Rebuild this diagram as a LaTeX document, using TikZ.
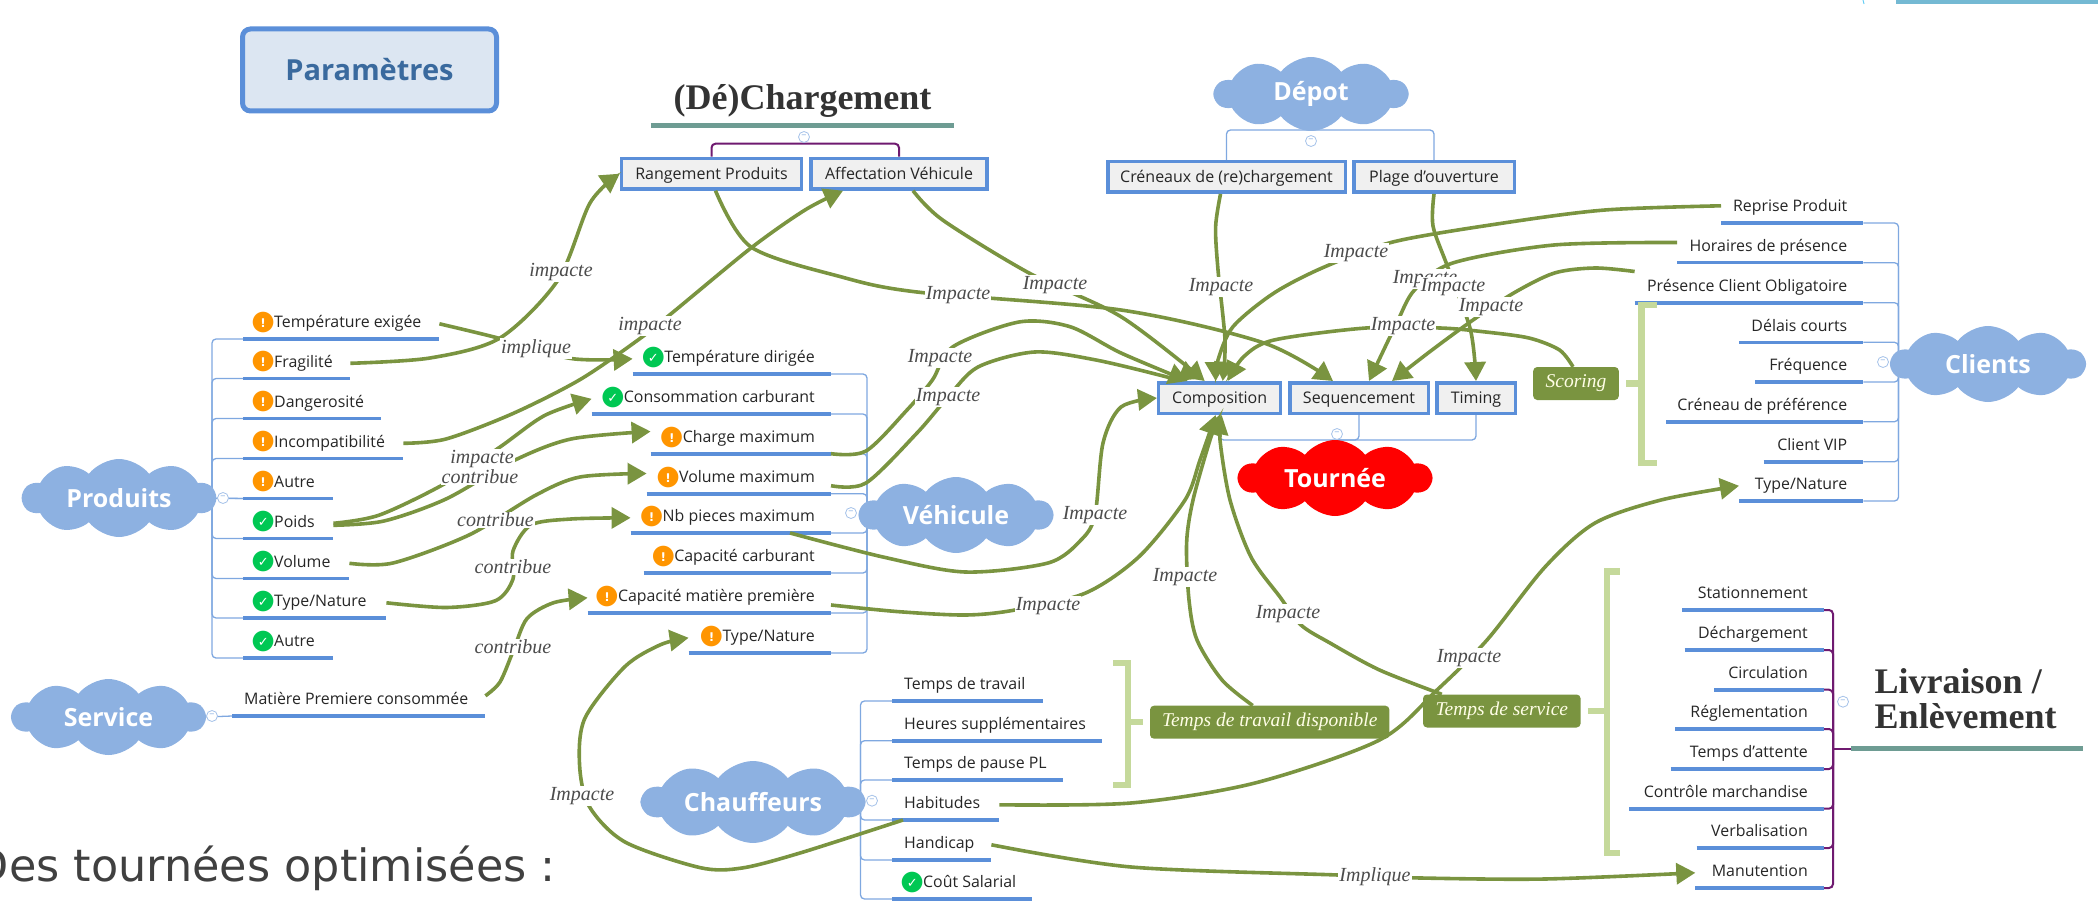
\documentclass[tikz,border=0pt]{standalone}
\usepackage{fontspec}
\setmainfont{Open Sans}
\newfontfamily\labelfont{Liberation Serif}
\newfontfamily\symbolfont{DejaVu Sans}
\usetikzlibrary{arrows.meta,calc,shapes.symbols}

\definecolor{topicblue}{HTML}{5B8FD9}
\definecolor{branchblue}{HTML}{7FA8E0}
\definecolor{cloudblue}{HTML}{8DB1E1}
\definecolor{linkgreen}{HTML}{7A9440}
\definecolor{bracketgreen}{HTML}{C5D99B}
\definecolor{titleteal}{HTML}{6E9C93}
\definecolor{rootpurple}{HTML}{6F1A70}
\definecolor{warnorange}{HTML}{FF9500}
\definecolor{okgreen}{HTML}{00C853}
\definecolor{boxgrey}{HTML}{F0F0F0}
\definecolor{legendblue}{HTML}{DCE6F2}
\definecolor{legendtext}{HTML}{3A6A9E}
\definecolor{slidebar}{HTML}{74B9D3}

\newcommand{\badge}[3]{\smash{\makebox[16pt][c]{\makebox[0pt]{\raisebox{-1.5pt}{\fontsize{27}{27}\symbolfont\color{#1}●}}\makebox[0pt]{\raisebox{0.5pt}{\fontsize{#3}{#3}\symbolfont\bfseries\color{white}#2}}}}\hspace{3pt}}
\newcommand{\warnmark}{\badge{warnorange}{!}{12}}
\newcommand{\okmark}{\badge{okgreen}{✓}{13}}

\tikzset{
	topictext/.style={inner sep=0pt,minimum height=30pt,text height=12pt,text depth=4pt,font=\fontsize{15.9}{18}\selectfont,text=black!85},
	leftopic/.style={topictext,anchor=south west,text width=#1,align=flush left,execute at begin node={\hspace*{12pt}},
		append after command={(\tikzlastnode.south west) edge[rule] (\tikzlastnode.south east)}},
	rightopic/.style={topictext,anchor=south east,text width=#1,align=flush right,execute at end node={\hspace*{16pt}},
		append after command={(\tikzlastnode.south west) edge[rule] (\tikzlastnode.south east)}},
	rule/.style={draw=topicblue,line width=3.6pt},
	branch/.style={draw=branchblue,line width=1.3pt,rounded corners=4pt},
	rootbranch/.style={draw=rootpurple,line width=2pt,rounded corners=4pt},
	bubble/.style={cloud,cloud puffs=10,cloud puff arc=105,cloud ignores aspect,fill=cloudblue,inner sep=0pt,text=white,font=\fontsize{25}{28}\selectfont\bfseries},
	sbox/.style={draw=topicblue,line width=3.5pt,fill=boxgrey,minimum height=30.5pt,inner sep=0pt,text height=13pt,text depth=2pt,font=\fontsize{16}{18}\selectfont,text=black!85},
	tagbox/.style={fill=linkgreen,rounded corners=4pt,inner sep=0pt,minimum height=33pt,text=white!90!yellow,font=\fontsize{19.5}{22}\selectfont\labelfont\itshape},
	bracket/.style={draw=bracketgreen,line width=6.5pt},
	link/.style={draw=linkgreen,line width=3.6pt,->},
	lbl/.style={fill=white,inner sep=1pt,text=black!70,font=\fontsize{20}{22}\selectfont\labelfont\itshape},
	fold/.style={circle,draw=branchblue!70,fill=white,line width=.8pt,minimum size=11pt,inner sep=0pt,text=branchblue,font=\fontsize{9}{9}\selectfont},
	titletext/.style={text=black!80,font=\fontsize{36}{38}\selectfont\labelfont\bfseries},
	titlerule/.style={draw=titleteal,line width=5pt}
}

\begin{document}
\begin{tikzpicture}[x=1pt,y=-1pt,>={Triangle[length=19pt,width=21pt]}]
	\useasboundingbox (0,0) rectangle (2098,901);

	% corner of the slide
	\fill[slidebar] (1896,0) rectangle (2098,4);
	\draw[cyan!60,line width=1pt] (1864,4) -- (1863,0);
	\node[anchor=base east,text=black!75,inner sep=0pt,font=\fontsize{44.5}{48}\selectfont\symbolfont] (slidetext) at (556,881) {Des tournées optimisées :};

	% legend
	\node[draw=topicblue,line width=5pt,rounded corners=8pt,fill=legendblue,minimum width=254pt,minimum height=82pt,text=legendtext,font=\fontsize{29}{32}\selectfont\bfseries] (parametres) at (369.5,70) {Paramètres};

	% anchor points of the trees
	\coordinate (produitsjoin) at (212,498);
	\coordinate (vehiculejoin) at (867,513);
	\coordinate (clientsjoin) at (1898.5,362);
	\coordinate (chauffeursjoin) at (860.5,800);
	\coordinate (livraisonjoin) at (1833,748.7);
	\coordinate (depotjoin) at (1311,130);
	\coordinate (tourneejoin) at (1338,440);
	\coordinate (chargementjoin) at (804,143.7);

	% Produits
	\node[leftopic=196pt] (tempexigee) at (243,339) {\warnmark Température exigée};
	\node[leftopic=107pt] (fragilite) at (243,378.5) {\warnmark Fragilité};
	\node[leftopic=138pt] (dangerosite) at (243,418.5) {\warnmark Dangerosité};
	\node[leftopic=160pt] (incompat) at (243,458.5) {\warnmark Incompatibilité};
	\node[leftopic=90pt] (autrea) at (243,498.5) {\warnmark Autre};
	\node[leftopic=90pt] (poids) at (243,538.5) {\okmark Poids};
	\node[leftopic=106pt] (volume) at (243,578.5) {\okmark Volume};
	\node[leftopic=143pt] (typeproduit) at (243,618) {\okmark Type/Nature};
	\node[leftopic=90pt] (autreb) at (243,658) {\okmark Autre};
	\foreach \leaf in {tempexigee,fragilite,dangerosite,incompat,autrea,poids,volume,typeproduit,autreb}
		\draw[branch] (\leaf.south west) -| (produitsjoin);
	\node[bubble,minimum width=193pt,minimum height=78pt] (produits) at (119,498) {Produits};
	\draw[branch] (produits.east) -- (autrea.south west);
	\node[fold] (foldproduits) at (223,498) {−};

	% Service
	\node[leftopic=253pt] (matiere) at (232,716) {Matière Premiere consommée};
	\node[bubble,minimum width=193pt,minimum height=76pt] (service) at (108.5,717) {Service};
	\draw[branch] (service.east) -- (matiere.south west);
	\node[fold] (foldservice) at (212,716) {−};

	% Vehicule
	\node[rightopic=198pt] (tempdirigee) at (831,374) {\okmark Température dirigée};
	\node[rightopic=239pt] (consommation) at (831,414) {\okmark Consommation carburant};
	\node[rightopic=180pt] (chargemax) at (831,453.7) {\warnmark Charge maximum};
	\node[rightopic=184pt] (volumemax) at (831,493.7) {\warnmark Volume maximum};
	\node[rightopic=200pt] (nbpieces) at (831,533) {\warnmark Nb pieces maximum};
	\node[rightopic=187pt] (capacarb) at (831,573) {\warnmark Capacité carburant};
	\node[rightopic=243pt] (capamatiere) at (831,613) {\warnmark Capacité matière première};
	\node[rightopic=142pt] (typevehicule) at (831,653) {\warnmark Type/Nature};
	\foreach \leaf in {tempdirigee,consommation,chargemax,volumemax,nbpieces,capacarb,capamatiere,typevehicule}
		\draw[branch] (\leaf.south east) -| (vehiculejoin);
	\node[bubble,minimum width=193pt,minimum height=76pt] (vehicule) at (956,515) {Véhicule};
	\node[fold] (foldvehicule) at (851,513) {−};

	% Chauffeurs
	\node[leftopic=151pt] (tempstravail) at (892,701) {Temps de travail};
	\node[leftopic=210pt] (heures) at (892,740.7) {Heures supplémentaires};
	\node[leftopic=171pt] (pause) at (892,780) {Temps de pause PL};
	\node[leftopic=107pt] (habitudes) at (892,820) {Habitudes};
	\node[leftopic=99pt] (handicap) at (892,860) {Handicap};
	\node[leftopic=140pt] (cout) at (892,899) {\okmark Coût Salarial};
	\foreach \leaf in {tempstravail,heures,pause,habitudes,handicap,cout}
		\draw[branch] (\leaf.south west) -| (chauffeursjoin);
	\node[bubble,minimum width=222pt,minimum height=82pt] (chauffeurs) at (753,802) {Chauffeurs};
	\node[fold] (foldchauffeurs) at (872,800.7) {−};

	% Chargement
	\node[titletext,minimum width=303pt,anchor=south,inner sep=8pt] (chargement) at (802.5,125.5) {(Dé)Chargement};
	\draw[titlerule] (chargement.south west) -- (chargement.south east);
	\node[sbox,minimum width=180pt] (rangement) at (711.5,173.7) {Rangement Produits};
	\node[sbox,minimum width=175.6pt] (affectation) at (899,173.7) {Affectation Véhicule};
	\draw[rootbranch] (rangement.north) |- (chargementjoin) -| (affectation.north);
	\node[fold] (foldchargement) at (804,137) {−};

	% Depot
	\node[sbox,minimum width=237.5pt] (creneaux) at (1226.5,177) {Créneaux de (re)chargement};
	\node[sbox,minimum width=160.5pt] (plage) at (1434,177) {Plage d'ouverture};
	\draw[branch] (creneaux.north) |- (depotjoin) -| (plage.north);
	\node[bubble,minimum width=193pt,minimum height=74pt] (depot) at (1311,94) {Dépot};
	\node[fold] (folddepot) at (1311,141) {−};

	% Tournee
	\node[sbox,minimum width=122pt] (composition) at (1219.7,398) {Composition};
	\node[sbox,minimum width=138.5pt] (sequencement) at (1359,398) {Sequencement};
	\node[sbox,minimum width=78.5pt] (timing) at (1476,398) {Timing};
	\draw[branch] (composition.south) |- (tourneejoin) -| (timing.south);
	\draw[branch] (sequencement.south) |- (tourneejoin);
	\node[bubble,fill=red,minimum width=193pt,minimum height=76pt] (tournee) at (1335,478) {Tournée};
	\node[fold] (foldtournee) at (1337,434) {−};

	% Clients
	\node[rightopic=142pt] (reprise) at (1863.4,223) {Reprise Produit};
	\node[rightopic=186pt] (horaires) at (1863.4,262.7) {Horaires de présence};
	\node[rightopic=228.4pt] (presence) at (1863.4,302.7) {Présence Client Obligatoire};
	\node[rightopic=124pt] (delais) at (1863.4,342.3) {Délais courts};
	\node[rightopic=108pt] (frequence) at (1863.4,382) {Fréquence};
	\node[rightopic=197pt] (creneaupref) at (1863.4,421.7) {Créneau de préférence};
	\node[rightopic=99.4pt] (clientvip) at (1863.4,461.7) {Client VIP};
	\node[rightopic=124pt] (typeclient) at (1863.4,501) {Type/Nature};
	\foreach \leaf in {reprise,horaires,presence,delais,frequence,creneaupref,clientvip,typeclient}
		\draw[branch] (\leaf.south east) -| (clientsjoin);
	\node[bubble,minimum width=194pt,minimum height=76pt] (clients) at (1988,364) {Clients};
	\node[fold] (foldclients) at (1883,362) {−};

	% Livraison
	\node[rightopic=141.5pt] (stationnement) at (1824,610) {Stationnement};
	\node[rightopic=139pt] (dechargement) at (1824,650) {Déchargement};
	\node[rightopic=109.3pt] (circulation) at (1824,689.7) {Circulation};
	\node[rightopic=148.2pt] (reglementation) at (1824,729) {Réglementation};
	\node[rightopic=153pt] (attente) at (1824,769) {Temps d'attente};
	\node[rightopic=194.5pt] (controle) at (1824,808.7) {Contrôle marchandise};
	\node[rightopic=127pt] (verbalisation) at (1824,848) {Verbalisation};
	\node[rightopic=128.3pt] (manutention) at (1824,888) {Manutention};
	\foreach \leaf in {stationnement,dechargement,circulation,reglementation,attente,controle,verbalisation,manutention}
		\draw[rootbranch] (\leaf.south east) -| (livraisonjoin);
	\coordinate (livraisonrule) at (1851,748.7);
	\coordinate (livraisonend) at (2083,748.7);
	\draw[rootbranch] (livraisonjoin) -- (livraisonrule);
	\draw[titlerule] (livraisonrule) -- (livraisonend);
	\node[titletext,anchor=south west,align=left,inner sep=0pt,font=\fontsize{36}{34.5}\selectfont\labelfont\bfseries] (livraison) at (1874.5,729) {Livraison /\\Enlèvement};
	\node[fold] (foldlivraison) at (1843,701.7) {−};

	% tags and their brackets
	\node[tagbox,minimum width=85.6pt] (scoring) at (1576,383.5) {Scoring};
	\node[tagbox,minimum width=239.4pt] (travaildispo) at (1269.7,722.2) {Temps de travail disponible};
	\node[tagbox,minimum width=157.6pt] (tempsservice) at (1501.8,711) {Temps de service};
	\coordinate (scoringtop) at (1657,305);
	\coordinate (scoringbottom) at (1657,463);
	\draw[bracket] (scoringtop) -- (1641.5,305) -- (1641.5,463) -- (scoringbottom);
	\draw[bracket,shorten <=7pt] (scoring.east) -- (1641.5,383.5);
	\coordinate (travailtop) at (1113,663);
	\coordinate (travailbottom) at (1113,785);
	\draw[bracket] (travailtop) -- (1128,663) -- (1128,785) -- (travailbottom);
	\draw[bracket,shorten <=7pt] (travaildispo.west) -- (1128,722.2);
	\coordinate (servicetop) at (1619.5,571.7);
	\coordinate (servicebottom) at (1619.5,853);
	\draw[bracket] (servicetop) -- (1607,571.7) -- (1607,853) -- (servicebottom);
	\draw[bracket,shorten <=7pt] (tempsservice.east) -- (1607,711);

	% links
	\draw[link] plot[smooth] coordinates {(fragilite.east) (430,358) (500,338) (558,280) (590,203) (rangement.west)};
	\draw[link] plot[smooth] coordinates {(tempexigee.east) (498,338) (571,358.5) (tempdirigee.west)};
	\draw[link] plot[smooth] coordinates {(incompat.east) (446,439) (513,413.5) (580,379.6) (638,340) (672,313) (751,248) (805,210) ([xshift=-56pt]affectation.south)};
	\draw[link] plot[smooth] coordinates {(poids.east) (379.5,515) (446,483) (500,447) (544.6,415.5) (consommation.west)};
	\draw[link] plot[smooth] coordinates {([yshift=-2pt]poids.east) (384,521) (446,499) (513,461) (571,439) ([yshift=7pt]chargemax.west)};
	\draw[link] plot[smooth] coordinates {(volume.east) (393,563) (469,535) (536,495) (580,477) ([yshift=5pt]volumemax.west)};
	\draw[link] plot[smooth] coordinates {(typeproduit.east) (446.4,607.5) (495.5,600.7) (513,579) (513,551) (531,525) (571,519) (nbpieces.west)};
	\draw[link] plot[smooth] coordinates {([yshift=5pt]matiere.east) (500,682) (513.4,650.5) (527,618.6) (553.6,602.7) (capamatiere.west)};
	\draw[link] plot[smooth] coordinates {([xshift=11pt]habitudes.south west) (800,853) (742,868) (700,867.6) (625,842) (589,806) (579.5,764) (585,718) (625,666.5) (661,644.5) (typevehicule.west)};
	\draw[link] plot[smooth] coordinates {([xshift=4pt]rangement.south) (751,247) (840.6,276.7) (917,292) (1121,310) (1264,343) ([xshift=-26pt]sequencement.north)};
	\draw[link] plot[smooth] coordinates {([xshift=14pt]affectation.south) (942.6,220) (1029,273) (1121,316.7) ([xshift=-15pt]composition.north)};
	\draw[link] plot[smooth] coordinates {(chargemax.south east) (866,451) (907,410) (932.4,380) (953,346.7) (1019,322) (1070,326.7) (1121,353) ([xshift=-32pt]composition.north)};
	\draw[link] plot[smooth] coordinates {([yshift=8pt]volumemax.south east) (866,483) (917,433) (948,397) (978,367) (1034.5,352) (1096,360) (1167,377) ([xshift=-43pt]composition.north)};
	\draw[link] plot[smooth] coordinates {([xshift=-41pt]nbpieces.south east) (883,557) (965,572) (1048,563) (1081,540) (1095,515) (1103,443) (1121,407) (composition.west)};
	\draw[link] plot[smooth] coordinates {([yshift=8pt]capamatiere.south east) (899,611.7) (965.6,615) (1015,610) (1085.6,593) (1139,556.7) (1185,500) (1200,460) ([xshift=-4pt]composition.south)};
	\draw[link] plot[smooth] coordinates {([xshift=-17pt]travaildispo.north) (1222,680) (1197,640) (1189,600) (1186.6,543) (1193,500) (1210,440) (composition.south)};
	\draw[link] plot[smooth] coordinates {([xshift=-60pt]tempsservice.north) (1379.5,670) (1330,643) (1301,625) (1280,597) (1251,557) (1230,500) (1220,440) ([xshift=2pt]composition.south)};
	\draw[link] plot[smooth] coordinates {(habitudes.east) (1131,803) (1255,783) (1379.5,740) (1437,690) (1487,640) (1545,567) (1595,523) (1661,500) (typeclient.west)};
	\draw[link] plot[smooth] coordinates {(handicap.east) (1131,867) (1338,875) (1421,878) (1545,879) (manutention.west)};
	\draw[link] plot[smooth] coordinates {([xshift=-6pt]creneaux.south) (1215.6,227) (1218,270) (1225,340) ([xshift=3pt]composition.north)};
	\draw[link] plot[smooth] coordinates {([yshift=2pt]reprise.west) (1605,210) (1503.6,223) (1394,241.7) (1325,266.7) (1274,293) (1233,326.7) (1218,360) ([xshift=-4pt]composition.north)};
	\draw[link] plot[smooth] coordinates {([yshift=5pt]horaires.west) (1554,245) (1452.7,263) (1414.5,290) (1396.7,323) ([xshift=10pt]sequencement.north)};
	\draw[link] plot[smooth] coordinates {([yshift=16pt]presence.west) (1595,268) (1554.5,273) (1513.7,293) (1473,320) (1432,350) ([xshift=33pt]sequencement.north)};
	\draw[link] plot[smooth] coordinates {([xshift=-3pt]scoring.north) (1559.5,350) (1529,338) (1483,331.7) (1440,328) (1366,328) (1274,340) (1243.7,356.7) ([xshift=8pt]composition.north)};
	\draw[link] plot[smooth] coordinates {(plage.south) (1433,226) (1447.6,266.7) (1470.5,330) (timing.north)};

	% link labels
	\node[lbl] (lblfragilite) at (561,272) {impacte};
	\node[lbl] (lbltemperature) at (536,348.5) {implique};
	\node[lbl] (lblincompat) at (650,326) {impacte};
	\node[lbl] (lblpoidsa) at (482,459) {impacte};
	\node[lbl] (lblpoidsb) at (480,477) {contribue};
	\node[lbl] (lblvolume) at (495.5,520) {contribue};
	\node[lbl] (lbltype) at (513,567) {contribue};
	\node[lbl] (lblmatiere) at (513,647) {contribue};
	\node[lbl] (lblhabitudesa) at (582,796) {Impacte};
	\node[lbl] (lblrangement) at (958,295) {Impacte};
	\node[lbl] (lblaffectation) at (1055,285) {Impacte};
	\node[lbl] (lblcharge) at (940,358) {Impacte};
	\node[lbl] (lblvolmax) at (948,397) {Impacte};
	\node[lbl] (lblnbpieces) at (1095,515) {Impacte};
	\node[lbl] (lblcapamat) at (1048,606) {Impacte};
	\node[lbl] (lbltravail) at (1185,577) {Impacte};
	\node[lbl] (lblservice) at (1288,614) {Impacte};
	\node[lbl] (lblhabitudesb) at (1469,658) {Impacte};
	\node[lbl] (lblhandicap) at (1375,877) {Implique};
	\node[lbl] (lblcreneaux) at (1221,287) {Impacte};
	\node[lbl] (lblreprise) at (1356,253) {Impacte};
	\node[lbl] (lblhoraires) at (1425,279) {Impacte};
	\node[lbl] (lblplage) at (1453,287) {Impacte};
	\node[lbl] (lblpresence) at (1491,307) {Impacte};
	\node[lbl] (lblscoring) at (1403,326) {Impacte};
\end{tikzpicture}
\end{document}
